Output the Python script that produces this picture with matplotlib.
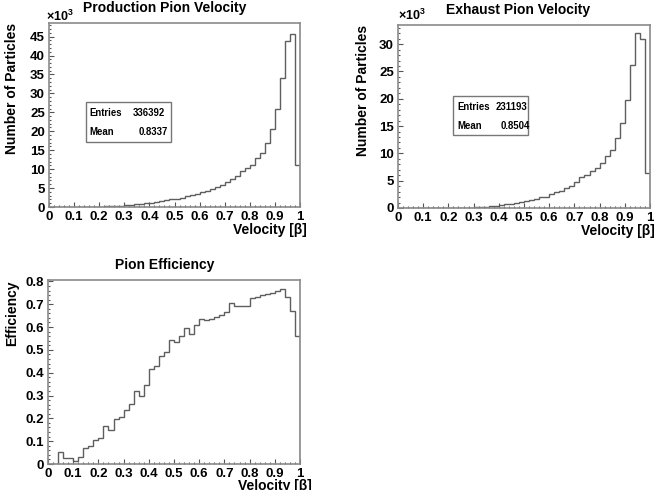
import numpy as np
import matplotlib
matplotlib.use("Agg")
import matplotlib.pyplot as plt
from matplotlib.ticker import MultipleLocator, FuncFormatter
from matplotlib.patches import Rectangle

plt.rcParams['font.family'] = ['Liberation Sans', 'DejaVu Sans']
plt.rcParams['font.weight'] = 'bold'
plt.rcParams['mathtext.fontset'] = 'custom'
plt.rcParams['mathtext.rm'] = 'Liberation Sans'
plt.rcParams['mathtext.bf'] = 'Liberation Sans:bold'

# 50 bins from 0 to 1
edges = np.linspace(0, 1, 51)

# counts per bin, in thousands
production_k = [0, 0, 0.002, 0.004, 0.006, 0.01, 0.02, 0.035, 0.055, 0.08,
                0.12, 0.16, 0.22, 0.29, 0.37, 0.47, 0.58, 0.70, 0.85, 1.0,
                1.15, 1.35, 1.55, 1.8, 2.0, 2.2, 2.5, 2.8, 3.1, 3.4,
                3.9, 4.3, 4.7, 5.3, 5.9, 6.6, 7.4, 8.3, 9.4, 10.3,
                11.2, 12.9, 14.2, 16.9, 20.6, 25.9, 34.0, 43.8, 45.7, 11.1]

exhaust_k = [0, 0, 0, 0, 0, 0, 0, 0, 0.002, 0.004,
             0.006, 0.01, 0.015, 0.03, 0.06, 0.10, 0.16, 0.23, 0.32, 0.42,
             0.52, 0.65, 0.8, 0.95, 1.1, 1.27, 1.45, 1.7, 1.95, 2.1,
             2.55, 2.85, 3.2, 3.6, 4.1, 4.7, 5.6, 6.1, 6.7, 7.3,
             8.2, 9.5, 10.6, 12.8, 15.5, 19.7, 26.2, 32.0, 30.9, 6.4]

efficiency = [0, 0, 0.054, 0.028, 0.025, 0.015, 0.032, 0.068, 0.077, 0.107,
              0.114, 0.165, 0.150, 0.197, 0.204, 0.235, 0.264, 0.320, 0.299, 0.346,
              0.418, 0.431, 0.474, 0.490, 0.545, 0.536, 0.559, 0.596, 0.571, 0.610,
              0.635, 0.632, 0.636, 0.645, 0.654, 0.664, 0.705, 0.690, 0.690, 0.690,
              0.725, 0.733, 0.740, 0.746, 0.750, 0.758, 0.766, 0.733, 0.672, 0.562]

prod_stats = ("336392", "0.8337")
exh_stats = ("231193", "0.8504")

W, H = 663, 490
fig = plt.figure(figsize=(W / 100, H / 100), dpi=100)


def px(x):
    return x / W


def py(y):
    return 1 - y / H


frame_col = '#8a8a8a'
line_col = '#5e5e5e'


def make_axes(left, top, right, bottom, ymax, ymajor, yminor):
    ax = fig.add_axes([px(left), py(bottom), px(right - left), (bottom - top) / H])
    ax.set_xlim(0, 1)
    ax.set_ylim(0, ymax)
    for s in ax.spines.values():
        s.set_color(frame_col)
        s.set_linewidth(1.2)
    ax.xaxis.set_major_locator(MultipleLocator(0.1))
    ax.xaxis.set_minor_locator(MultipleLocator(0.02))
    ax.yaxis.set_major_locator(MultipleLocator(ymajor))
    ax.yaxis.set_minor_locator(MultipleLocator(yminor))
    fmt = FuncFormatter(lambda v, p: f"{v:.10g}")
    ax.xaxis.set_major_formatter(fmt)
    ax.yaxis.set_major_formatter(fmt)
    ax.tick_params(which='both', direction='in', top=False, right=False,
                   color='#555555', labelsize=9.5, width=0.8)
    ax.tick_params(which='major', length=3.5)
    ax.tick_params(which='minor', length=1.6)
    ax.tick_params(axis='x', pad=3)
    ax.tick_params(axis='y', pad=3)
    for lab in ax.get_xticklabels() + ax.get_yticklabels():
        lab.set_fontweight('bold')
    return ax


def stats_box(x0, y0, x1, y1, entries, mean, ytxt, xl, xr):
    fig.patches.append(Rectangle((px(x0), py(y1)), px(x1 - x0), (y1 - y0) / H,
                                 transform=fig.transFigure, fill=False,
                                 edgecolor='#777777', linewidth=1.0))
    fig.text(px(xl), py(ytxt[0]), "Entries", fontsize=6.9, va='center', ha='left')
    fig.text(px(xr), py(ytxt[0]), entries, fontsize=6.9, va='center', ha='right')
    fig.text(px(xl), py(ytxt[1]), "Mean", fontsize=6.9, va='center', ha='left')
    fig.text(px(xr + 3), py(ytxt[1]), mean, fontsize=6.9, va='center', ha='right')


def times_ten(x, y):
    # ROOT style x10^3 exponent above the y axis
    fig.text(px(x), py(y), r"×10$^{\mathrm{3}}$", fontsize=9, ha='left', va='center')


# Production
ax1 = make_axes(49, 23, 300, 207, 48.6, 5, 1)
ax1.stairs(production_k, edges, color=line_col, linewidth=1.0)
fig.text(px(165), py(8), "Production Pion Velocity", fontsize=10, ha='center', va='center')
fig.text(px(12), py(23), "Number of Particles", fontsize=10, rotation=90, ha='center', va='top')
fig.text(px(307), py(230), "Velocity [β]", fontsize=10, ha='right', va='center')
times_ten(46, 16)
stats_box(86, 102, 171, 142, prod_stats[0], prod_stats[1], (113, 132), 89, 165)

# Exhaust
ax2 = make_axes(398, 25, 650, 208, 33.5, 5, 1)
ax2.stairs(exhaust_k, edges, color=line_col, linewidth=1.0)
fig.text(px(518), py(10), "Exhaust Pion Velocity", fontsize=10, ha='center', va='center')
fig.text(px(363), py(25), "Number of Particles", fontsize=10, rotation=90, ha='center', va='top')
fig.text(px(655), py(231), "Velocity [β]", fontsize=10, ha='right', va='center')
times_ten(398, 15)
stats_box(453, 96, 528, 135, exh_stats[0], exh_stats[1], (107, 126), 457, 527)

# Efficiency (the x title sits at the bottom edge, as in the original)
ax3 = make_axes(48, 280, 300, 464, 0.806, 0.1, 0.02)
ax3.stairs(efficiency, edges, color=line_col, linewidth=1.0)
fig.text(px(165), py(265), "Pion Efficiency", fontsize=10, ha='center', va='center')
fig.text(px(12), py(280), "Efficiency", fontsize=10, rotation=90, ha='center', va='top')
fig.text(px(312), py(486), "Velocity [β]", fontsize=10, ha='right', va='center')

fig.savefig("out.png", dpi=100)
